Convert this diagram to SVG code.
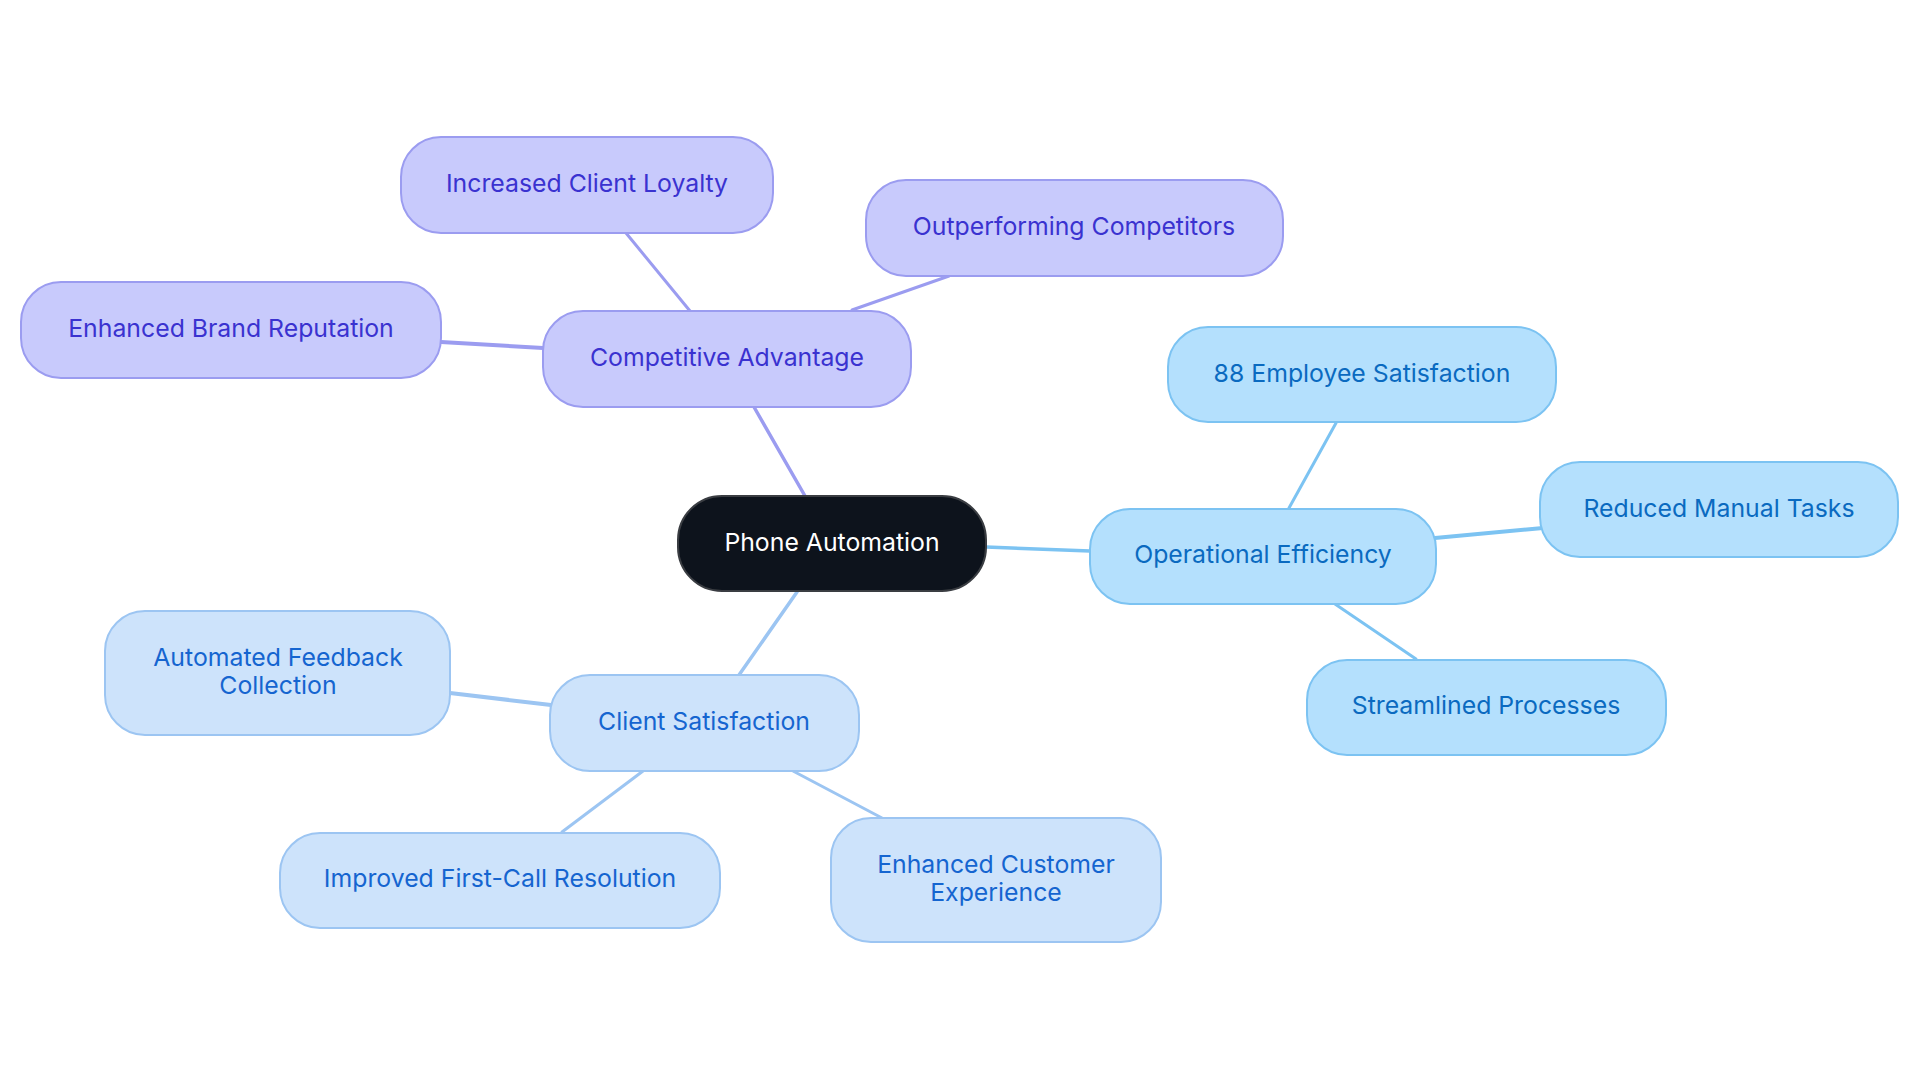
<svg xmlns="http://www.w3.org/2000/svg" width="1920" height="1083" viewBox="0 0 1920 1083">
<style>
text{font-family:Inter,"Noto Sans","Liberation Sans",sans-serif;font-size:24.8px;text-anchor:middle}
.root rect{fill:#0d131c;stroke:#3a3d42;stroke-width:2}
.root text{fill:#ffffff}
.p rect{fill:#c8cafc;stroke:#9b9cf0;stroke-width:2}
.p text{fill:#3a32d0}
.o rect{fill:#b4e0fd;stroke:#7cc3f2;stroke-width:2}
.o text{fill:#0a6ac0}
.c rect{fill:#cde3fb;stroke:#9cc5f2;stroke-width:2}
.c text{fill:#1565d0}
.ep{stroke:#9b9cf0;fill:none;stroke-linecap:round}
.eo{stroke:#7cc3f2;fill:none;stroke-linecap:round}
.ec{stroke:#9cc5f2;fill:none;stroke-linecap:round}
</style>
<rect width="1920" height="1083" fill="#ffffff"/>
<g id="connectors">
<line class="ep" x1="805" y1="496" x2="754" y2="407" stroke-width="3.5"/>
<line class="ep" x1="690" y1="311" x2="626" y2="233" stroke-width="3"/>
<line class="ep" x1="543" y1="348" x2="441" y2="342" stroke-width="4"/>
<line class="ep" x1="852" y1="310" x2="949" y2="276" stroke-width="3"/>
<line class="eo" x1="986" y1="547" x2="1090" y2="551" stroke-width="3.5"/>
<line class="eo" x1="1289" y1="508" x2="1336" y2="423" stroke-width="3"/>
<line class="eo" x1="1435" y1="538" x2="1543" y2="528" stroke-width="4"/>
<line class="eo" x1="1335" y1="604" x2="1416" y2="659" stroke-width="3"/>
<line class="ec" x1="797" y1="592" x2="739" y2="675" stroke-width="3.5"/>
<line class="ec" x1="551" y1="705" x2="450" y2="693" stroke-width="4"/>
<line class="ec" x1="643" y1="771" x2="562" y2="832" stroke-width="3"/>
<line class="ec" x1="793" y1="771" x2="882" y2="818" stroke-width="3"/>
</g>
<g id="phone-automation" class="root">
<rect x="678" y="496" width="308" height="95" rx="44"/>
<text x="832" y="551">Phone Automation</text>
</g>
<g id="competitive-advantage" class="p">
<rect x="543" y="311" width="368" height="96" rx="40"/>
<text x="727" y="366">Competitive Advantage</text>
</g>
<g id="increased-client-loyalty" class="p">
<rect x="401" y="137" width="372" height="96" rx="40"/>
<text x="587" y="192">Increased Client Loyalty</text>
</g>
<g id="enhanced-brand-reputation" class="p">
<rect x="21" y="282" width="420" height="96" rx="40"/>
<text x="231" y="337">Enhanced Brand Reputation</text>
</g>
<g id="outperforming-competitors" class="p">
<rect x="866" y="180" width="417" height="96" rx="40"/>
<text x="1074" y="235">Outperforming Competitors</text>
</g>
<g id="operational-efficiency" class="o">
<rect x="1090" y="509" width="346" height="95" rx="40"/>
<text x="1263" y="563">Operational Efficiency</text>
</g>
<g id="employee-satisfaction" class="o">
<rect x="1168" y="327" width="388" height="95" rx="40"/>
<text x="1362" y="382">88 Employee Satisfaction</text>
</g>
<g id="reduced-manual-tasks" class="o">
<rect x="1540" y="462" width="358" height="95" rx="40"/>
<text x="1719" y="517">Reduced Manual Tasks</text>
</g>
<g id="streamlined-processes" class="o">
<rect x="1307" y="660" width="359" height="95" rx="40"/>
<text x="1486" y="714">Streamlined Processes</text>
</g>
<g id="client-satisfaction" class="c">
<rect x="550" y="675" width="309" height="96" rx="40"/>
<text x="704" y="730">Client Satisfaction</text>
</g>
<g id="automated-feedback-collection" class="c">
<rect x="105" y="611" width="345" height="124" rx="40"/>
<text x="278" y="666">Automated Feedback</text>
<text x="278" y="694">Collection</text>
</g>
<g id="improved-first-call-resolution" class="c">
<rect x="280" y="833" width="440" height="95" rx="40"/>
<text x="500" y="887">Improved First-Call Resolution</text>
</g>
<g id="enhanced-customer-experience" class="c">
<rect x="831" y="818" width="330" height="124" rx="40"/>
<text x="996" y="873">Enhanced Customer</text>
<text x="996" y="901">Experience</text>
</g>
</svg>
